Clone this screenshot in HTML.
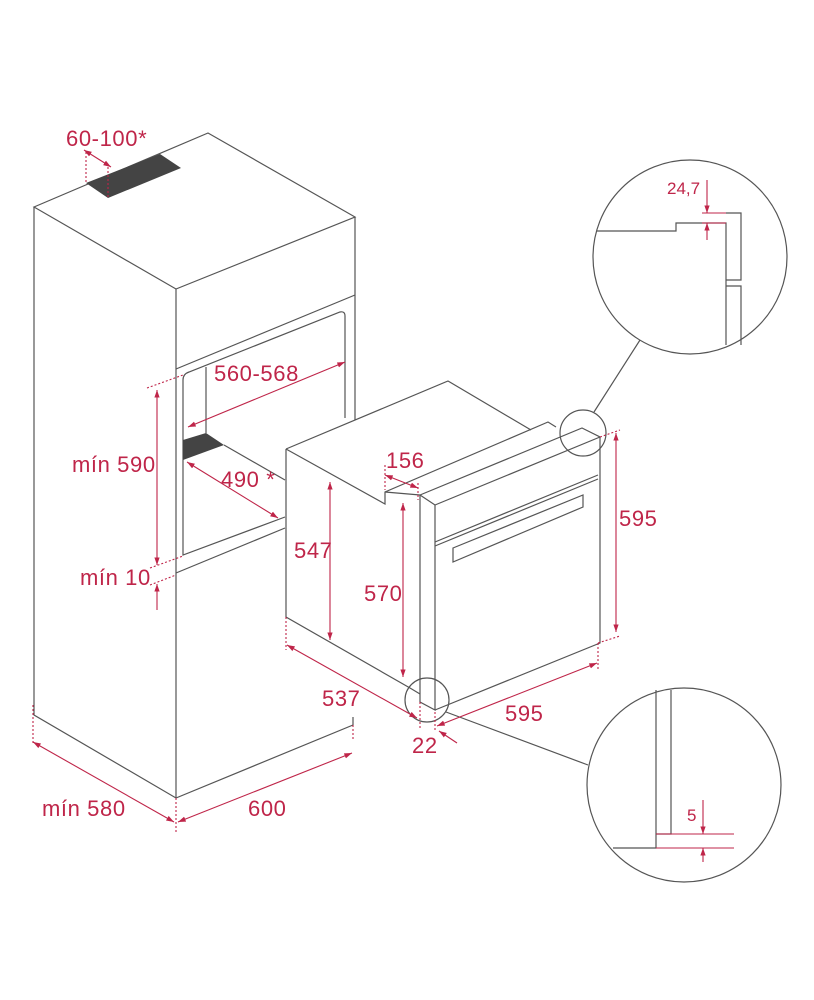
<!DOCTYPE html>
<html><head><meta charset="utf-8"><style>
html,body{margin:0;padding:0;background:#fff;}
svg{display:block;}
text{font-family:"Liberation Sans","DejaVu Sans",sans-serif;fill:#bf2549;font-size:22px;letter-spacing:0.6px;}
</style></head><body>
<svg width="814" height="1000" viewBox="0 0 814 1000" xmlns="http://www.w3.org/2000/svg">
<defs>
<marker id="a" viewBox="0 0 10 10" refX="10" refY="5" markerWidth="7" markerHeight="7" orient="auto-start-reverse"><path d="M0,1.5 L10,5 L0,8.5 z" fill="#bf2549"/></marker>
</defs>
<g fill="none" stroke="#555" stroke-width="1.2">
<path d="M34,207 L208,133 L355,217 L176,289 Z"/>
<path d="M34,207 L34,715 L176,798 L353,725 L353,717"/>
<path d="M176,289 L176,798"/>
<path d="M355,217 L355,420"/>
<path d="M176,369 L355,295"/>
<path d="M183,380 Q183,374 189,372 L340,312 Q345,311 345,316 L345,418"/>
<path d="M183,380 L183,555 L285,517"/>
<path d="M206,367 L206,433"/>
<path d="M224,445 L285,480"/>
<path d="M176,573 L285,528"/>
<path d="M286,449 L448,381 L531,430"/>
<path d="M286,449 L286,617 L410,688 L420,694"/>
<path d="M286,449 L385,504 L385,492 L548,422 L556,427"/>
<path d="M385,492 L420,495"/>
<path d="M420,495 L582,428 L600,437 L435,505 L420,495 Z"/>
<path d="M420,495 L420,702 L435,710 L435,505"/>
<path d="M600,437 L600,643 L435,710"/>
<path d="M435,542 L598,475"/>
<path d="M435,546 L598,479"/>
<path d="M453,548 L583,495 L583,507 L453,562 Z"/>
<circle cx="583" cy="433" r="23"/>
<circle cx="427" cy="700" r="22"/>
<path d="M594,412 L640,340"/>
<path d="M446,712 L588,765"/>
<circle cx="690" cy="257" r="97"/>
<circle cx="684" cy="785" r="97"/>
<path d="M597,231 L676,231 L676,223 L726,223 L726,345"/>
<path d="M726,213 L741,213 L741,280 L726,280 M726,286 L741,286 L741,345"/>
<path d="M656,690 L656,848 L613,848 M671,690 L671,834 L656,834"/>
</g>
<path d="M86,183 L160,154 L181,168 L108,198 Z" fill="#444"/>
<path d="M183,440 L206,433 L224,445 L183,460 Z" fill="#444"/>
<g fill="none" stroke="#bf2549" stroke-width="1.1">
<path d="M86,152 L86,183 M108,167 L108,198" stroke-dasharray="2,2"/>
<path d="M84,150 L111,167" marker-start="url(#a)" marker-end="url(#a)"/>
<path d="M157,390 L157,565" marker-start="url(#a)" marker-end="url(#a)"/>
<path d="M147,388 L183,375 M150,568 L183,556 M150,585 L176,575" stroke-dasharray="2,2"/>
<path d="M157,610 L157,584" marker-end="url(#a)"/>
<path d="M188,427 L345,362" marker-start="url(#a)" marker-end="url(#a)"/>
<path d="M187,462 L278,518" marker-start="url(#a)" marker-end="url(#a)"/>
<path d="M33,705 L33,745 M176,798 L176,832 M353,725 L353,740" stroke-dasharray="2,2"/>
<path d="M33,742 L174,822" marker-start="url(#a)" marker-end="url(#a)"/>
<path d="M178,822 L352,753" marker-start="url(#a)" marker-end="url(#a)"/>
<path d="M330,482 L330,640" marker-start="url(#a)" marker-end="url(#a)"/>
<path d="M403,503 L403,677" marker-start="url(#a)" marker-end="url(#a)"/>
<path d="M616,433 L616,632" marker-start="url(#a)" marker-end="url(#a)"/>
<path d="M286,617 L286,650 M420,702 L420,730 M435,712 L435,730 M598,643 L598,670 M600,437 L620,430 M598,643 L620,636" stroke-dasharray="2,2"/>
<path d="M385,465 L385,490 M418,483 L418,500" stroke-dasharray="2,2"/>
<path d="M287,645 L417,718" marker-start="url(#a)" marker-end="url(#a)"/>
<path d="M437,726 L597,663" marker-start="url(#a)" marker-end="url(#a)"/>
<path d="M457,743 L439,731" marker-end="url(#a)"/>
<path d="M385,475 L418,488" marker-start="url(#a)" marker-end="url(#a)"/>
<path d="M707,180 L707,213" marker-end="url(#a)"/>
<path d="M707,240 L707,223" marker-end="url(#a)"/>
<path d="M702,213 L726,213 M702,223 L726,223"/>
<path d="M703,800 L703,834" marker-end="url(#a)"/>
<path d="M703,862 L703,848" marker-end="url(#a)"/>
<path d="M656,834 L734,834 M656,848 L734,848"/>
</g>
<text x="66" y="146">60-100*</text>
<text x="214" y="381">560-568</text>
<text x="72" y="472">mín 590</text>
<text x="221" y="487">490 *</text>
<text x="80" y="585">mín 10</text>
<text x="42" y="816">mín 580</text>
<text x="248" y="816">600</text>
<text x="386" y="468">156</text>
<text x="294" y="558">547</text>
<text x="364" y="601">570</text>
<text x="619" y="526">595</text>
<text x="322" y="706">537</text>
<text x="505" y="721">595</text>
<text x="412" y="753">22</text>
<text x="667" y="194" style="font-size:17px;letter-spacing:0">24,7</text>
<text x="687" y="821" style="font-size:17px;letter-spacing:0">5</text>
</svg>
</body></html>
